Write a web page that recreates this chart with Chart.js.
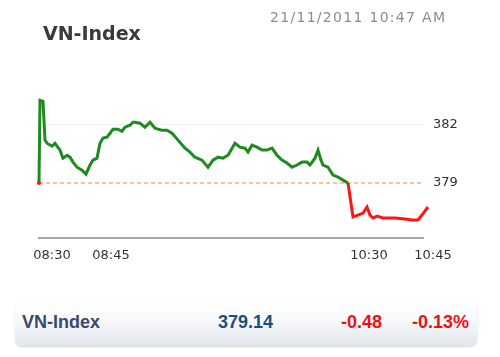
<!DOCTYPE html>
<html>
<head>
<meta charset="utf-8">
<script src="https://cdn.jsdelivr.net/npm/chart.js@4/dist/chart.umd.min.js"></script>
<style>
  html, body { margin: 0; padding: 0; background: #ffffff; }
  #page { position: relative; width: 500px; height: 357px; overflow: hidden; background: #fff; }
  #chartWrap { position: absolute; left: 0; top: 0; width: 500px; height: 290px; }
  .abs { position: absolute; white-space: nowrap; }
  #title { left: 43px; top: 24px; font: bold 19px "DejaVu Sans", sans-serif; line-height: 19px; color: #3a3a3a; }
  #stamp { left: 270px; top: 10px; font: 14px "DejaVu Sans", sans-serif; line-height: 14px; color: #8c8c8c; letter-spacing: 1.3px; }
  #box { left: 15px; top: 302px; width: 462px; height: 44px; border-radius: 7px;
         background: linear-gradient(#ffffff 0%, #f6f8fa 45%, #e0e6ec 100%);
         box-shadow: 0 1px 2px rgba(0,0,0,0.18); }
  .bx { position: absolute; top: 313px; font: bold 18px "Liberation Sans", Arial, sans-serif; line-height: 18px; white-space: nowrap; }
</style>
</head>
<body>
<div id="page">
  <div id="chartWrap"><canvas id="c"></canvas></div>
  <div id="title" class="abs">VN-Index</div>
  <div id="stamp" class="abs">21/11/2011 10:47 AM</div>
  <div id="box" class="abs"></div>
  <div class="bx" id="bName" style="left:22px;color:#3b4a6a;"></div>
  <div class="bx" id="bValue" style="left:218px;color:#1d4e7b;"></div>
  <div class="bx" id="bChange" style="left:341px;color:#ee1111;"></div>
  <div class="bx" id="bPct" style="left:412px;color:#ee1111;"></div>
</div>
<script>
// ---- data ----
const indexName = 'VN-Index';
const lastValue = '379.14';
const change = '-0.48';
const changePct = '-0.13%';
const referenceLevel = 379;

// intraday samples (position along session, index value)
const samplePos = [0,1,4,6,8,13,16,21,24,28,31,34,38,43,47,51,54,58,61,64,68,71,74,79,83,86,91,94,96,101,106,111,116,123,128,133,139,146,151,156,163,169,174,179,184,189,196,201,206,209,213,218,223,228,233,238,243,248,253,258,263,268,271,276,279,282,284,289,294,299,304,309,314,319,324,328,331,334,338,344,356,366,373,379,383,389];
const sampleValue = [379.00,383.22,383.17,381.19,381.03,380.88,381.03,380.68,380.27,380.42,380.32,380.07,379.81,379.66,379.46,379.92,380.17,380.27,381.03,381.29,381.34,381.54,381.75,381.75,381.64,381.85,381.95,382.10,382.10,382.05,381.85,382.10,381.80,381.69,381.69,381.54,381.19,380.78,380.58,380.32,380.17,379.81,380.17,380.32,380.27,380.42,381.03,380.83,380.78,380.58,380.93,380.83,380.68,380.68,380.78,380.42,380.17,380.02,379.81,379.92,380.07,380.07,379.92,380.27,380.68,380.17,379.92,379.81,379.41,379.31,379.15,379.00,377.27,377.37,377.47,377.78,377.37,377.22,377.32,377.22,377.22,377.17,377.12,377.12,377.37,377.78];

const timeTickPos = [13, 72, 330, 394];
const timeTickLabels = ['08:30', '08:45', '10:30', '10:45'];
const valueTicks = [379, 382];

// ---- page texts ----
document.getElementById('bName').textContent = indexName;
document.getElementById('bValue').textContent = lastValue;
document.getElementById('bChange').textContent = change;
document.getElementById('bPct').textContent = changePct;

const GREEN = '#1f8a1f';
const RED = '#ff1414';

const points = samplePos.map((x, i) => ({ x: x, y: sampleValue[i] }));

new Chart(document.getElementById('c'), {
  type: 'line',
  data: {
    datasets: [
      {
        data: points,
        borderColor: GREEN,
        borderWidth: 3,
        tension: 0,
        fill: false,
        clip: false,
        pointRadius: ctx => ctx.dataIndex === 0 ? 2 : 0,
        pointBackgroundColor: RED,
        pointBorderWidth: 0,
        segment: {
          borderColor: ctx => ctx.p1.parsed.y < referenceLevel ? RED : GREEN
        },
        order: 1
      },
      {
        data: [{ x: 0, y: referenceLevel }, { x: 384, y: referenceLevel }],
        borderColor: '#f3b27a',
        borderWidth: 1.5,
        borderDash: [4, 3],
        pointRadius: 0,
        fill: false,
        order: 2
      }
    ]
  },
  options: {
    responsive: true,
    maintainAspectRatio: false,
    animation: false,
    events: [],
    layout: { padding: { left: 39, top: 85, right: 0, bottom: 0 } },
    plugins: { legend: { display: false }, tooltip: { enabled: false }, title: { display: false } },
    scales: {
      x: {
        type: 'linear',
        min: 0,
        max: 384,
        afterFit: s => { s.height = 52; },
        afterBuildTicks: s => { s.ticks = timeTickPos.map(v => ({ value: v })); },
        grid: { display: false, drawTicks: false },
        border: { display: true, color: '#a8a8a8', width: 2 },
        ticks: {
          autoSkip: false,
          maxRotation: 0,
          padding: 10,
          color: '#333',
          font: { family: 'DejaVu Sans', size: 13 },
          callback: (v) => { const i = timeTickPos.indexOf(v); return i >= 0 ? timeTickLabels[i] : ''; }
        }
      },
      y: {
        position: 'right',
        min: 376.2,
        max: 384.0,
        afterFit: s => { s.width = 77; },
        afterBuildTicks: s => { s.ticks = valueTicks.map(v => ({ value: v })); },
        grid: { color: ctx => ctx.tick && ctx.tick.value === referenceLevel ? 'rgba(0,0,0,0)' : '#f0f0f0', drawTicks: false, lineWidth: 1 },
        border: { display: false },
        ticks: {
          padding: 10,
          color: '#333',
          font: { family: 'DejaVu Sans', size: 13 },
          callback: v => String(v)
        }
      }
    }
  }
});
</script>
</body>
</html>
